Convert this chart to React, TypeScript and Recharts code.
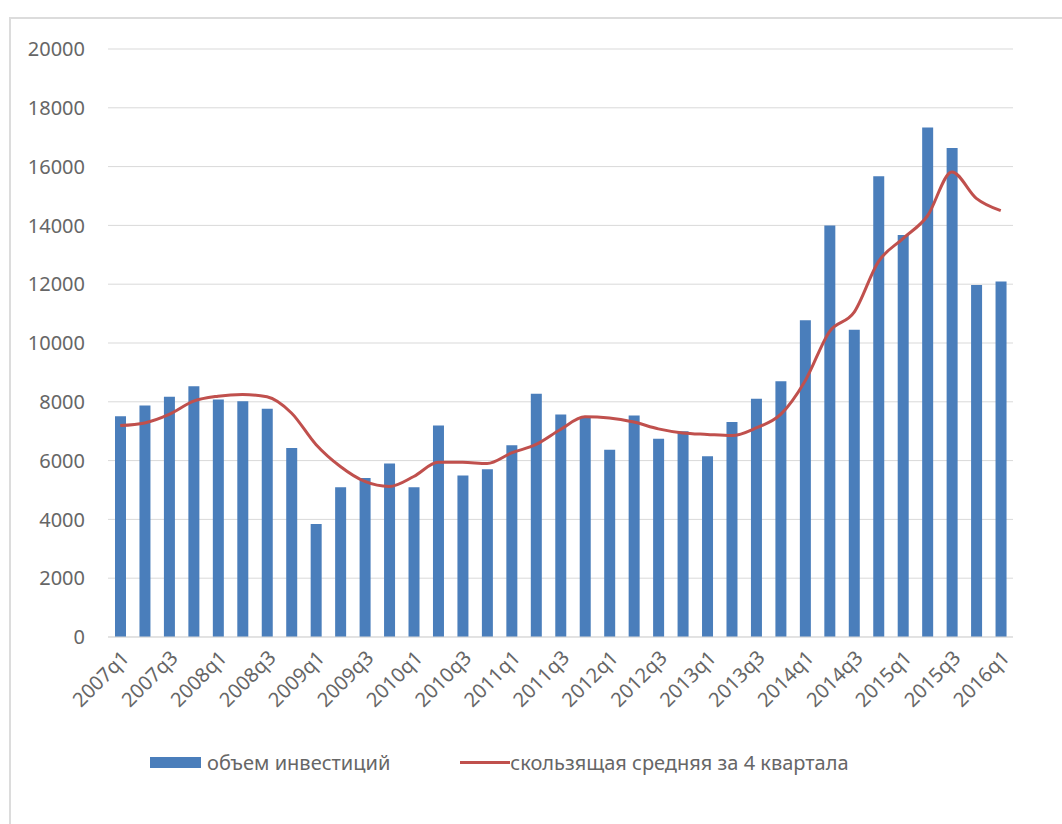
import { Bar, CartesianGrid, ComposedChart, Line, XAxis, YAxis } from "recharts";

const quarters = [
  "2007q1", "2007q2", "2007q3", "2007q4",
  "2008q1", "2008q2", "2008q3", "2008q4",
  "2009q1", "2009q2", "2009q3", "2009q4",
  "2010q1", "2010q2", "2010q3", "2010q4",
  "2011q1", "2011q2", "2011q3", "2011q4",
  "2012q1", "2012q2", "2012q3", "2012q4",
  "2013q1", "2013q2", "2013q3", "2013q4",
  "2014q1", "2014q2", "2014q3", "2014q4",
  "2015q1", "2015q2", "2015q3", "2015q4",
  "2016q1"
];

const investment = [
  7510, 7870, 8170, 8530,
  8080, 8020, 7760, 6430,
  3840, 5090, 5410, 5900,
  5090, 7190, 5490, 5710,
  6520, 8270, 7570, 7490,
  6370, 7530, 6740, 7000,
  6150, 7310, 8100, 8700,
  10770, 14000, 10450, 15670,
  13670, 17330, 16630, 11970,
  12090
];

const movingAverage = [
  7190, 7280, 7570, 8020,
  8190, 8250, 8170, 7620,
  6550, 5800, 5290, 5120,
  5460, 5940, 5940, 5900,
  6260, 6550, 7060, 7490,
  7450, 7310, 7080, 6940,
  6890, 6850, 7110, 7570,
  8710, 10390, 11040, 12770,
  13550, 14320, 15820, 14920,
  14500
];

const yTicks = [0, 2000, 4000, 6000, 8000, 10000, 12000, 14000, 16000, 18000, 20000];

const data = quarters.map((q, i) => ({ q, inv: investment[i], avg: movingAverage[i] }));

const font = "'Noto Sans', sans-serif";
const textColor = "#666666";
const barColor = "#4a7ebb";
const lineColor = "#c0504d";

export default function App() {
  return (
    <div style={{ position: "absolute", left: 0, top: 0, width: 1062, height: 824, background: "#fff", fontFamily: font }}>
      <div
        style={{
          position: "absolute",
          left: 9,
          top: 17,
          width: 1062,
          height: 824,
          borderLeft: "2px solid #dcdcdc",
          borderTop: "2px solid #dcdcdc"
        }}
      />
      <div style={{ position: "absolute", left: 0, top: 0 }}>
        <ComposedChart width={1062} height={824} data={data} margin={{ top: 49, right: 49, bottom: 67, left: 0 }}>
          <CartesianGrid vertical={false} stroke="#d9d9d9" />
          <XAxis
            dataKey="q"
            interval={1}
            height={120}
            tickSize={0}
            tickMargin={12}
            axisLine={{ stroke: "#d9d9d9" }}
            tick={{ fill: textColor, fontSize: 20, fontFamily: font, angle: -45, textAnchor: "end" }}
          />
          <YAxis
            domain={[0, 20000]}
            ticks={yTicks}
            width={108}
            tickSize={0}
            tickMargin={23}
            axisLine={false}
            tickLine={false}
            tick={{ fill: textColor, fontSize: 20, fontFamily: font }}
          />
          <Bar dataKey="inv" fill={barColor} barSize={11} isAnimationActive={false} />
          <Line
            type="monotone"
            dataKey="avg"
            stroke={lineColor}
            strokeWidth={3}
            dot={false}
            isAnimationActive={false}
          />
        </ComposedChart>
      </div>
      <div
        style={{
          position: "absolute",
          left: 150,
          top: 749,
          display: "flex",
          alignItems: "center",
          fontSize: 20,
          color: textColor,
          whiteSpace: "nowrap"
        }}
      >
        <span style={{ display: "inline-block", width: 51, height: 11, background: barColor, marginRight: 6 }} />
        <span>объем инвестиций</span>
        <span style={{ display: "inline-block", width: 50, height: 3, background: lineColor, marginLeft: 70 }} />
        <span>скользящая средняя за 4 квартала</span>
      </div>
    </div>
  );
}
